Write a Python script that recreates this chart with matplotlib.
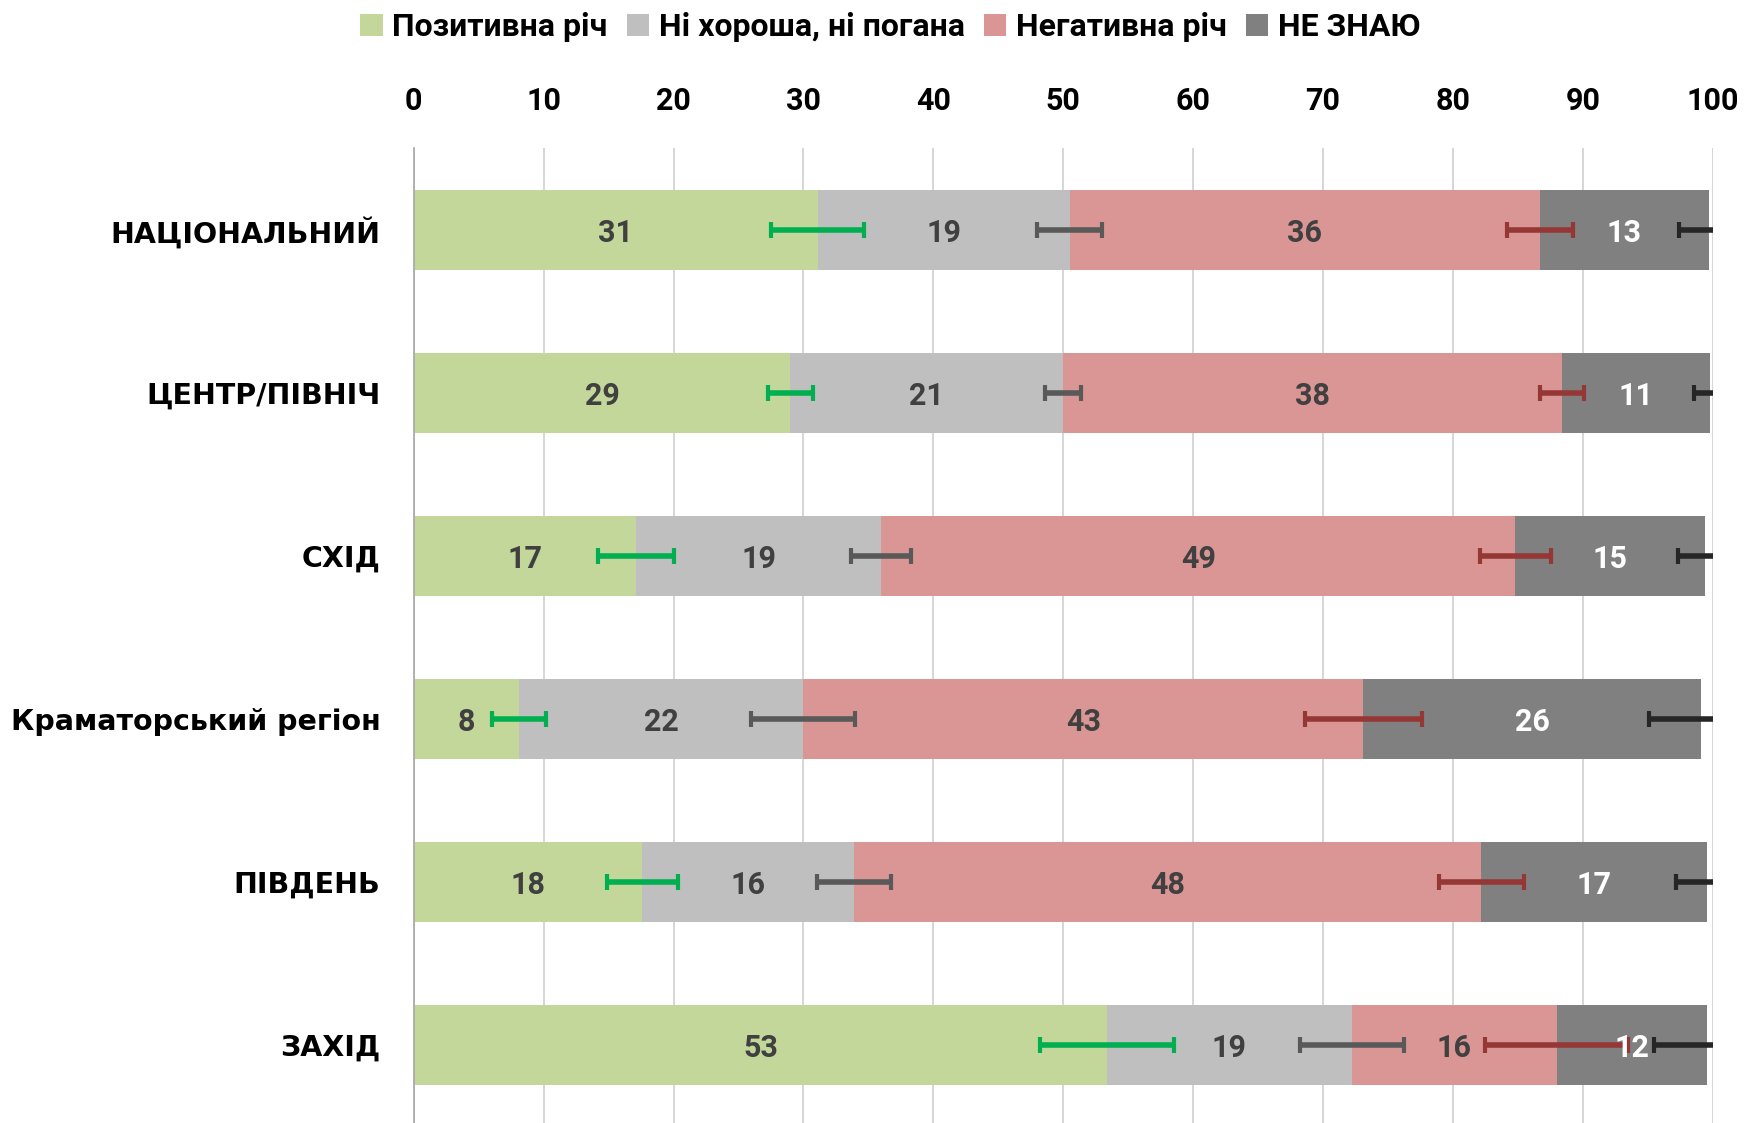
import numpy as np
import matplotlib
matplotlib.use("Agg")
import matplotlib.pyplot as plt

# categories, top to bottom
regions = ["НАЦІОНАЛЬНИЙ", "ЦЕНТР/ПІВНІЧ", "СХІД", "Краматорський регіон", "ПІВДЕНЬ", "ЗАХІД"]
series = ["Позитивна річ", "Ні хороша, ні погана", "Негативна річ", "НЕ ЗНАЮ"]

# segment shares (%)
positive = [31.1, 29.0, 17.1, 8.1, 17.6, 53.4]
neutral = [19.4, 21.0, 18.9, 21.9, 16.3, 18.8]
negative = [36.2, 38.4, 48.8, 43.1, 48.3, 15.8]
dont_know = [13.0, 11.4, 14.6, 26.0, 17.4, 11.6]

# error bar half-widths, drawn at the end of each segment
positive_err = [3.6, 1.75, 2.9, 2.1, 2.75, 5.15]
neutral_err = [2.5, 1.4, 2.3, 4.0, 2.85, 4.0]
negative_err = [2.55, 1.7, 2.75, 4.5, 3.3, 5.5]
dont_know_err = [2.3, 1.2, 2.1, 4.0, 2.4, 4.1]

bar_colors = ["#C4D79B", "#BFBFBF", "#DA9694", "#808080"]
err_colors = ["#00B050", "#595959", "#953735", "#262626"]
label_colors = ["#404040", "#404040", "#404040", "white"]

num_font = ["Roboto", "DejaVu Sans"]
cat_font = ["DejaVu Sans"]

fig = plt.figure(figsize=(17.53, 11.23), dpi=100)
ax = fig.add_axes([0.236, 0.0, 0.741, 0.868])

y = np.arange(len(regions))
values = [positive, neutral, negative, dont_know]
errors = [positive_err, neutral_err, negative_err, dont_know_err]

left = np.zeros(len(regions))
for vals, errs, name, bc, ec, lc in zip(values, errors, series, bar_colors, err_colors, label_colors):
    vals = np.array(vals)
    ax.barh(y, vals, left=left, height=0.49, color=bc, label=name, zorder=2)
    ends = left + vals
    ax.errorbar(ends, y, xerr=errs, fmt="none", ecolor=ec, elinewidth=4,
                capsize=6, capthick=3, zorder=3)
    for yi, l, v in zip(y, left, vals):
        ax.text(l + v / 2, yi + 0.02, f"{v:.0f}", ha="center", va="center",
                fontsize=22, fontweight="bold", color=lc, family=num_font, zorder=4)
    left = ends

ax.set_xlim(0, 100)
ax.set_ylim(5.48, -0.5)
ax.set_xticks(np.arange(0, 101, 10))
ax.xaxis.tick_top()
ax.tick_params(axis="x", length=0, pad=23, labelsize=22)
for t in ax.get_xticklabels():
    t.set_fontweight("bold")
    t.set_family(num_font)
ax.set_yticks(y)
ax.set_yticklabels(regions, fontsize=20.5, fontweight="bold", family=cat_font)
ax.tick_params(axis="y", length=0, pad=24)

ax.grid(axis="x", color="#D0D0D0", linewidth=1.2, zorder=0)
ax.set_axisbelow(True)
for s in ["top", "right", "bottom"]:
    ax.spines[s].set_visible(False)
ax.spines["left"].set_color("#A6A6A6")
ax.spines["left"].set_linewidth(1.2)

leg = fig.legend(loc="upper center", bbox_to_anchor=(0.508, 1.015), ncol=4, frameon=False,
                 handlelength=0.7, handleheight=0.7, handletextpad=0.3, columnspacing=0.6,
                 prop={"family": num_font, "weight": "bold", "size": 23})

fig.savefig("out.png", dpi=100)
